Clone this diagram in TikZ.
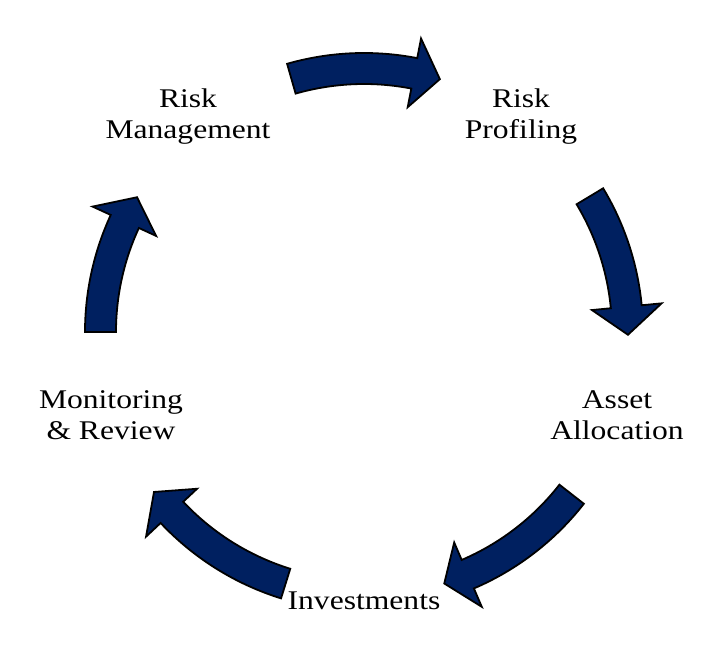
\documentclass[tikz,border=0pt]{standalone}
\usepackage{fontspec}
\setmainfont[FakeStretch=1.17]{Liberation Serif}
\definecolor{navy}{HTML}{002060}
\tikzset{
  cyclearrow/.style={fill=navy, draw=black, line width=1.8pt, line join=miter},
  lbl/.style={align=center, font=\fontsize{27}{31}\selectfont, inner sep=0pt}
}
\newcommand\cycArrow[3]{%
  \draw[cyclearrow] (#1:279) arc[start angle=#1, end angle=#2, radius=279]
    -- (#2:299) -- (#3:264) -- (#2:229) -- (#2:248)
    arc[start angle=#2, end angle=#1, radius=248] -- cycle;}
\begin{document}
\begin{tikzpicture}[x=1pt,y=1pt]
\useasboundingbox (0,0) rectangle (724,-648);
\begin{scope}[shift={(364,-332)}]
  \cycArrow{106}{79}{73.3}
  \cycArrow{31}{5.5}{-0.6}
  \cycArrow{-38}{-66.8}{-72.3}
  \cycArrow{-107.3}{-136.8}{-142.7}
  \cycArrow{180}{155.2}{149.3}
\end{scope}
\node[lbl] (rp) at (521,-117) {Risk\\Profiling};
\node[lbl] (aa) at (617,-415) {Asset\\Allocation};
\node[lbl] (inv) at (364,-601) {Investments};
\node[lbl] (mr) at (111,-415) {Monitoring\\\& Review};
\node[lbl] (rm) at (188,-117) {Risk\\Management};
\end{tikzpicture}
\end{document}
